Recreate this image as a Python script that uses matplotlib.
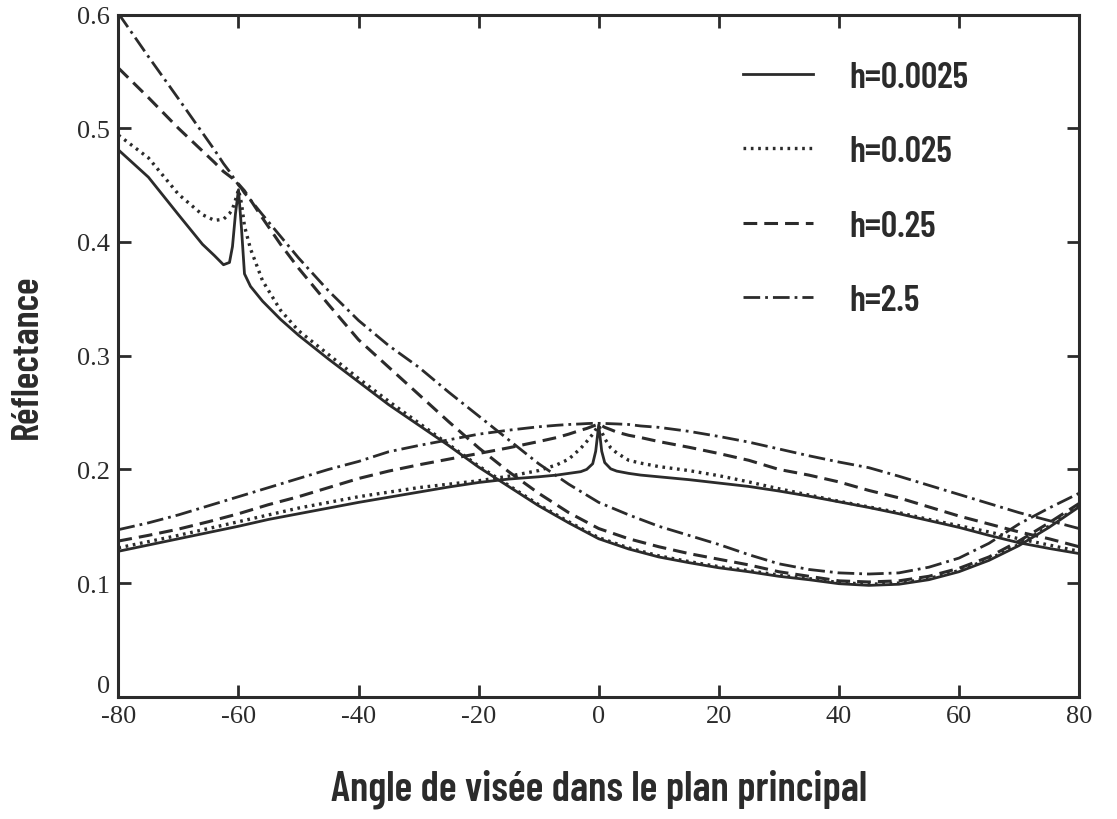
import matplotlib
matplotlib.use("Agg")
import matplotlib.pyplot as plt

# viewing angles and reflectances
# family A : hot spot on the negative side (about -60 deg)
angA = [-80, -75, -70, -66, -64, -62.5, -61.5, -61, -60.5, -60, -59.5, -59, -58, -56, -53,
        -50, -45, -40, -35, -30, -25, -20, -15, -10, -5, 0, 5, 10, 15, 20,
        25, 30, 35, 40, 45, 50, 55, 60, 65, 70, 75, 80]
solidA = [0.481, 0.457, 0.424, 0.398, 0.388, 0.380, 0.382, 0.396, 0.425, 0.446, 0.412, 0.372, 0.361, 0.348, 0.332,
          0.318, 0.297, 0.277, 0.257, 0.239, 0.221, 0.202, 0.185, 0.168, 0.153, 0.139, 0.130, 0.123, 0.118, 0.1135,
          0.110, 0.106, 0.103, 0.0995, 0.098, 0.099, 0.103, 0.110, 0.120, 0.133, 0.149, 0.167]
dottedA = [0.494, 0.474, 0.442, 0.424, 0.419, 0.420, 0.425, 0.429, 0.437, 0.446, 0.434, 0.414, 0.394, 0.366, 0.340,
           0.322, 0.301, 0.280, 0.260, 0.241, 0.222, 0.203, 0.186, 0.169, 0.154, 0.140, 0.131, 0.124, 0.119, 0.1145,
           0.111, 0.107, 0.104, 0.1005, 0.099, 0.100, 0.104, 0.111, 0.121, 0.134, 0.150, 0.168]
dashedA = [0.553, 0.527, 0.500, 0.480, 0.470, 0.462, 0.458, 0.456, 0.453, 0.451, 0.448, 0.445, 0.437, 0.421, 0.398,
           0.377, 0.345, 0.314, 0.290, 0.266, 0.242, 0.219, 0.198, 0.179, 0.162, 0.148, 0.139, 0.132, 0.126, 0.121,
           0.116, 0.110, 0.106, 0.102, 0.101, 0.102, 0.106, 0.113, 0.123, 0.137, 0.153, 0.170]
dashdotA = [0.601, 0.563, 0.526, 0.496, 0.481, 0.469, 0.462, 0.458, 0.454, 0.450, 0.447, 0.443, 0.437, 0.424, 0.405,
            0.386, 0.357, 0.331, 0.309, 0.290, 0.268, 0.247, 0.226, 0.205, 0.187, 0.171, 0.160, 0.150, 0.142, 0.134,
            0.125, 0.117, 0.112, 0.109, 0.108, 0.109, 0.114, 0.122, 0.135, 0.152, 0.166, 0.179]

# family B : hot spot at nadir (0 deg)
angB = [-80, -75, -70, -65, -60, -55, -50, -45, -40, -35, -30, -25, -20, -15, -10,
        -7, -5, -3, -2, -1, -0.5, 0, 0.5, 1, 2, 3, 5, 7,
        10, 15, 20, 25, 30, 35, 40, 45, 50, 55, 60, 65, 70, 75, 80]
solidB = [0.128, 0.1335, 0.139, 0.1445, 0.150, 0.156, 0.161, 0.166, 0.171, 0.1755, 0.180, 0.1845, 0.1885, 0.1915, 0.1935,
          0.195, 0.1965, 0.198, 0.200, 0.205, 0.216, 0.239, 0.216, 0.206, 0.2005, 0.1985, 0.1965, 0.195,
          0.1935, 0.191, 0.188, 0.185, 0.181, 0.1765, 0.1715, 0.1665, 0.161, 0.155, 0.149, 0.142, 0.1355, 0.1305, 0.126]
dottedB = [0.131, 0.1365, 0.142, 0.148, 0.154, 0.160, 0.166, 0.171, 0.176, 0.180, 0.184, 0.187, 0.190, 0.194, 0.199,
           0.204, 0.209, 0.2185, 0.2245, 0.231, 0.235, 0.2385, 0.233, 0.227, 0.219, 0.2145, 0.208, 0.2055,
           0.2025, 0.199, 0.1945, 0.189, 0.183, 0.1775, 0.172, 0.167, 0.162, 0.156, 0.1505, 0.145, 0.139, 0.1335, 0.128]
dashedB = [0.137, 0.142, 0.1475, 0.154, 0.161, 0.169, 0.176, 0.184, 0.192, 0.1985, 0.204, 0.209, 0.214, 0.219, 0.2245,
           0.228, 0.231, 0.2345, 0.236, 0.238, 0.239, 0.2395, 0.2385, 0.237, 0.235, 0.2328, 0.230, 0.228,
           0.2245, 0.2195, 0.214, 0.208, 0.200, 0.195, 0.189, 0.1815, 0.175, 0.167, 0.159, 0.152, 0.145, 0.139, 0.132]
dashdotB = [0.147, 0.153, 0.160, 0.168, 0.176, 0.184, 0.192, 0.200, 0.207, 0.2155, 0.221, 0.226, 0.231, 0.2345, 0.2375,
            0.2388, 0.2395, 0.240, 0.2403, 0.2405, 0.2405, 0.2405, 0.2405, 0.2404, 0.2402, 0.240, 0.2395, 0.2382,
            0.237, 0.2335, 0.229, 0.224, 0.218, 0.212, 0.2065, 0.2015, 0.194, 0.186, 0.178, 0.170, 0.162, 0.155, 0.148]

labels = ["h=0.0025", "h=0.025", "h=0.25", "h=2.5"]
xticks = [-80, -60, -40, -20, 0, 20, 40, 60, 80]
yticks = [0, 0.1, 0.2, 0.3, 0.4, 0.5, 0.6]
ytick_labels = ["0", "0.1", "0.2", "0.3", "0.4", "0.5", "0.6"]

ink = "#2b2b2b"
narrow = ["Barlow Condensed", "Roboto Condensed", "DejaVu Sans"]
serif = ["Liberation Serif", "DejaVu Serif"]

styles = [
    dict(ls="-", lw=2.0),
    dict(ls=(0, (0.8, 1.4)), lw=2.4),
    dict(ls=(0, (4.5, 2.3)), lw=2.2),
    dict(ls=(0, (6.0, 1.8, 1.0, 1.8)), lw=2.0),
]

fig = plt.figure(figsize=(11.17, 8.2), dpi=100)
ax = fig.add_axes([0.106, 0.149, 0.860, 0.832])

famA = [solidA, dottedA, dashedA, dashdotA]
famB = [solidB, dottedB, dashedB, dashdotB]
for i in range(4):
    ax.plot(angA, famA[i], color=ink, label=labels[i], **styles[i])
    ax.plot(angB, famB[i], color=ink, **styles[i])

ax.set_xlim(-80, 80)
ax.set_ylim(0, 0.6)
ax.set_xticks(xticks)
ax.set_xticklabels([str(t) for t in xticks], family=serif, fontsize=19)
ax.set_yticks(yticks)
ax.set_yticklabels(ytick_labels, family=serif, fontsize=19)
ax.tick_params(direction="in", length=9, width=2, top=True, right=True, colors=ink, pad=6)
ax.get_yticklabels()[0].set_va("bottom")   # the "0" sits just above the corner
for s in ax.spines.values():
    s.set_linewidth(2.2)
    s.set_color(ink)

ax.set_xlabel("Angle de visée dans le plan principal", family=narrow, fontweight="semibold",
              fontsize=30, color=ink, labelpad=30)
ax.set_ylabel("Réflectance", family=narrow, fontweight="semibold", fontsize=28, color=ink, labelpad=24)

leg = ax.legend(loc="upper left", bbox_to_anchor=(0.665, 0.925), bbox_transform=fig.transFigure,
                frameon=False, handlelength=1.95, handletextpad=1.0, labelspacing=1.15,
                borderpad=0, borderaxespad=0, prop=dict(family=narrow, weight="semibold", size=26))
for t in leg.get_texts():
    t.set_color(ink)

fig.savefig("out.png", dpi=100, facecolor="white")
